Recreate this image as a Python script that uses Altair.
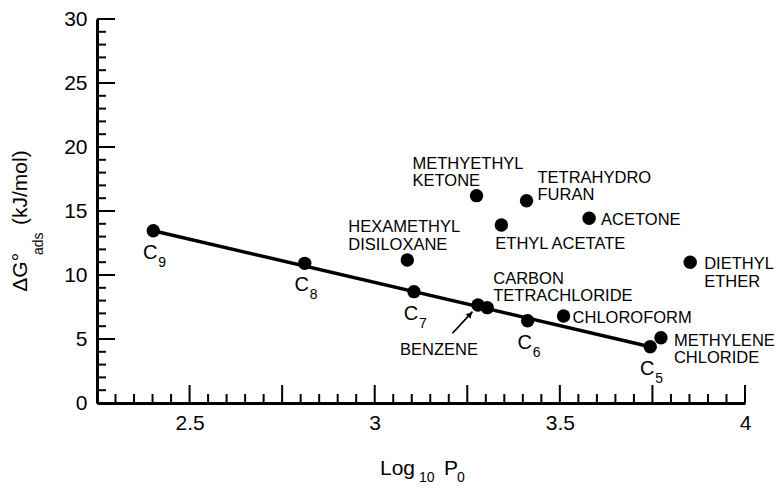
import altair as alt
import pandas as pd

# ---------------- data ----------------
alkane_sub = ["9", "8", "7", "6", "5"]
alkane_logp = [2.402, 2.811, 3.106, 3.413, 3.744]
alkane_dg = [13.46, 10.91, 8.70, 6.43, 4.40]

solvent_names = ["HEXAMETHYL\nDISILOXANE", "METHYETHYL\nKETONE", "TETRAHYDRO\nFURAN",
                 "ETHYL ACETATE", "ACETONE", "DIETHYL\nETHER", "BENZENE",
                 "CARBON\nTETRACHLORIDE", "CHLOROFORM", "METHYLENE\nCHLORIDE"]
solvent_logp = [3.088, 3.275, 3.410, 3.342, 3.579, 3.852, 3.279, 3.304, 3.510, 3.773]
solvent_dg = [11.17, 16.20, 15.80, 13.91, 14.43, 10.99, 7.66, 7.45, 6.80, 5.10]

fit_logp = [2.402, 3.744]
fit_dg = [13.46, 4.40]

arrow_logp = [3.210, 3.264]
arrow_dg = [5.45, 7.13]

x_labels = [2.5, 3.0, 3.5, 4.0]
x_major = [2.25, 2.5, 2.75, 3.0, 3.25, 3.5, 3.75, 4.0]
x_minor = [2.3, 2.35, 2.4, 2.45, 2.55, 2.6, 2.65, 2.7, 2.8, 2.85, 2.9, 2.95,
           3.05, 3.1, 3.15, 3.2, 3.3, 3.35, 3.4, 3.45, 3.55, 3.6, 3.65, 3.7,
           3.8, 3.85, 3.9, 3.95]
y_labels = [0, 5, 10, 15, 20, 25, 30]
y_minor = [1, 2, 3, 4, 6, 7, 8, 9, 11, 12, 13, 14, 16, 17, 18, 19,
           21, 22, 23, 24, 26, 27, 28, 29]

# ---------------- tables ----------------
alk = pd.DataFrame({"logp": alkane_logp, "dg": alkane_dg, "sub": alkane_sub})
sol = pd.DataFrame({"logp": solvent_logp, "dg": solvent_dg, "name": solvent_names})
fit = pd.DataFrame({"logp": fit_logp, "dg": fit_dg})
arr = pd.DataFrame({"logp": arrow_logp, "dg": arrow_dg})
head = pd.DataFrame({"logp": [arrow_logp[1] - 0.12 * (arrow_logp[1] - arrow_logp[0])],
                     "dg": [arrow_dg[1] - 0.12 * (arrow_dg[1] - arrow_dg[0])]})
xmaj = pd.DataFrame({"logp": x_major})
xmin = pd.DataFrame({"logp": x_minor})
ymaj = pd.DataFrame({"dg": y_labels})
ymin = pd.DataFrame({"dg": y_minor})
one = pd.DataFrame({"k": [0]})

FONT = "Liberation Sans"
W, H = 648, 384

X = alt.X("logp:Q",
          scale=alt.Scale(domain=[2.25, 4.0], nice=False, zero=False),
          axis=alt.Axis(values=x_labels, format=".2~f", title=None, grid=False, ticks=False,
                        labelPadding=9, labelFlush=False, labelOverlap=False))
Y = alt.Y("dg:Q",
          scale=alt.Scale(domain=[0, 30], nice=False, zero=True),
          axis=alt.Axis(values=y_labels, title=None, grid=False, ticks=False,
                        labelPadding=10, labelFlush=False, labelOverlap=False))

# inward ticks
tick_style = dict(color="black", strokeWidth=2)
xt_major = alt.Chart(xmaj).mark_rule(**tick_style).encode(x=X, y=alt.value(H), y2=alt.value(H - 18))
xt_minor = alt.Chart(xmin).mark_rule(**tick_style).encode(x=X, y=alt.value(H), y2=alt.value(H - 9))
yt_major = alt.Chart(ymaj).mark_rule(**tick_style).encode(y=Y, x=alt.value(0), x2=alt.value(18))
yt_minor = alt.Chart(ymin).mark_rule(**tick_style).encode(y=Y, x=alt.value(0), x2=alt.value(9))

line = alt.Chart(fit).mark_line(color="black", strokeWidth=3.5).encode(x=X, y=Y)
pts_alk = alt.Chart(alk).mark_circle(size=180, color="black", opacity=1).encode(x=X, y=Y)
pts_sol = alt.Chart(sol).mark_circle(size=180, color="black", opacity=1).encode(x=X, y=Y)

c_main = alt.Chart(alk).mark_text(text="C", font=FONT, fontSize=20, align="center",
                                  baseline="alphabetic", dx=-3, dy=28, color="black").encode(x=X, y=Y)
c_sub = alt.Chart(alk).mark_text(font=FONT, fontSize=14, align="left",
                                 baseline="alphabetic", dx=5, dy=36, color="black").encode(x=X, y=Y, text="sub:N")

label_style = {
    "HEXAMETHYL\nDISILOXANE": dict(align="left", dx=-59, dy=-28),
    "METHYETHYL\nKETONE": dict(align="left", dx=-64, dy=-27),
    "TETRAHYDRO\nFURAN": dict(align="left", dx=11, dy=-18),
    "ETHYL ACETATE": dict(align="left", dx=-6, dy=24),
    "ACETONE": dict(align="left", dx=12, dy=7),
    "DIETHYL\nETHER": dict(align="left", dx=14, dy=7),
    "BENZENE": dict(align="center", dx=-39, dy=50),
    "CARBON\nTETRACHLORIDE": dict(align="left", dx=6, dy=-24),
    "CHLOROFORM": dict(align="left", dx=9, dy=7),
    "METHYLENE\nCHLORIDE": dict(align="left", dx=13, dy=8),
}
label_layers = []
for nm, st in label_style.items():
    label_layers.append(
        alt.Chart(sol).transform_filter(alt.datum.name == nm)
        .mark_text(font=FONT, fontSize=16.5, lineBreak="\n", lineHeight=17.5,
                   baseline="alphabetic", color="black", **st)
        .encode(x=X, y=Y, text="name:N"))

arrow_line = alt.Chart(arr).mark_line(color="black", strokeWidth=1.8).encode(x=X, y=Y)
arrow_head = alt.Chart(head).mark_point(shape="triangle-up", filled=True, size=45, angle=43,
                                        color="black", opacity=1).encode(x=X, y=Y)

def title_piece(txt, x, y, size, angle=0):
    kw = dict(text=txt, font=FONT, fontSize=size, align="left", baseline="alphabetic", color="black")
    if angle:
        kw["angle"] = angle
    return alt.Chart(one).mark_text(**kw).encode(x=alt.value(x), y=alt.value(y))

titles = [
    title_piece("Log", 283, 456, 21),
    title_piece("10", 322, 463, 14),
    title_piece("P", 347, 456, 21),
    title_piece("0", 360, 463, 14),
    title_piece("\u0394G\u00b0", -70, 272.7, 21, 270),
    title_piece("ads", -54, 236, 14, 270),
    title_piece("(kJ/mol)", -70, 206, 21, 270),
]

chart = alt.layer(xt_major, xt_minor, yt_major, yt_minor, line, pts_alk, pts_sol, c_main, c_sub,
                  *label_layers, arrow_line, arrow_head, *titles).properties(
    width=W, height=H,
    autosize=alt.AutoSizeParams(type="none"),
    padding={"left": 89, "top": 11, "right": 31, "bottom": 85},
).configure_view(stroke="transparent").configure_axis(
    domainColor="black", domainWidth=3,
    labelFont=FONT, labelFontSize=21, labelColor="black",
)

chart.save("out.html", embed_options={"renderer": "svg", "actions": False})
